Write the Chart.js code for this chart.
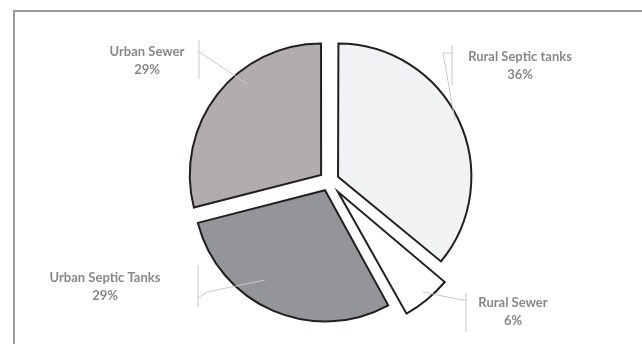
<!DOCTYPE html>
<html>
<head>
<meta charset="utf-8">
<script src="https://cdn.jsdelivr.net/npm/chart.js@4"></script>
<style>
  html, body { margin: 0; padding: 0; background: #fff; }
  #wrap { position: relative; width: 642px; height: 344px; }
</style>
</head>
<body>
<div id="wrap"><canvas id="pieChart" width="642" height="344"></canvas></div>
<script>
// data
const categories = ["Rural Septic tanks", "Rural Sewer", "Urban Septic Tanks", "Urban Sewer"];
const shares = [36, 6, 29, 29];
const sliceColors = ["#f1f2f4", "#ffffff", "#949598", "#b0adac"];
// chart.js moves a slice by offset / 4
const sliceOffsets = [40, 56, 40, 40];

// callout text and leader lines (annotation layout)
const callouts = [
  { x: 520, y: 57, line: [[452, 45], [452, 85]], leader: [[452, 53], [443, 53], [455, 120]] },
  { x: 513, y: 303, line: [[466, 293], [466, 332]], leader: [[466, 300], [462, 300], [423, 292]] },
  { x: 105, y: 278, line: [[198, 265], [198, 307]], leader: [[198, 298], [207, 292], [265, 280]] },
  { x: 147, y: 52, line: [[199, 40], [199, 79]], leader: [[198, 51], [247, 84]] }
];

const frame = {
  id: "frame",
  beforeDraw(chart) {
    const ctx = chart.ctx;
    ctx.save();
    ctx.strokeStyle = "#9a9a9a";
    ctx.lineWidth = 2;
    ctx.beginPath();
    ctx.moveTo(14, 344);
    ctx.lineTo(14, 11);
    ctx.lineTo(642, 11);
    ctx.stroke();
    ctx.restore();
  }
};

const calloutPlugin = {
  id: "callouts",
  afterDatasetsDraw(chart) {
    const ctx = chart.ctx;
    ctx.save();
    ctx.strokeStyle = "#c9c9c9";
    ctx.lineWidth = 1;
    callouts.forEach((c) => {
      [c.line, c.leader].forEach((pts) => {
        ctx.beginPath();
        pts.forEach((p, i) => (i ? ctx.lineTo(p[0], p[1]) : ctx.moveTo(p[0], p[1])));
        ctx.stroke();
      });
    });
    ctx.fillStyle = "#88888b";
    ctx.textAlign = "center";
    ctx.textBaseline = "middle";
    ctx.font = "bold 13px Lato, sans-serif";
    callouts.forEach((c, i) => {
      ctx.fillText(categories[i], c.x, c.y);
      ctx.fillText(shares[i] + "%", c.x, c.y + 18);
    });
    ctx.restore();
  }
};

new Chart(document.getElementById("pieChart"), {
  type: "pie",
  data: {
    labels: categories,
    datasets: [{
      data: shares,
      backgroundColor: sliceColors,
      borderColor: "#231f20",
      borderWidth: 2,
      borderJoinStyle: "miter",
      offset: sliceOffsets
    }]
  },
  options: {
    responsive: false,
    animation: false,
    radius: 131,
    layout: { padding: { top: 41, bottom: 23, left: 40, right: 24 } },
    plugins: {
      legend: { display: false },
      tooltip: { enabled: false }
    }
  },
  plugins: [frame, calloutPlugin]
});
</script>
</body>
</html>
